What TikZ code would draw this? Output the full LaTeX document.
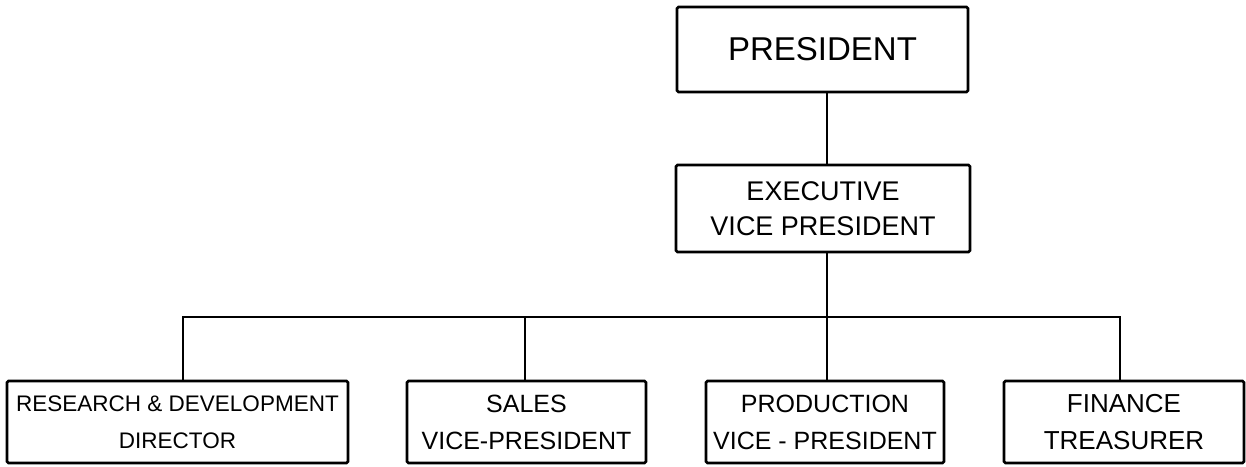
\documentclass[tikz,border=0pt]{standalone}
\usepackage{fontspec}
\setmainfont{Liberation Sans}
\begin{document}
\begin{tikzpicture}[x=1pt,y=-1pt,
  box/.style={draw=black, line width=2.6pt, rounded corners=1.5pt, inner sep=0pt, align=center},
  conn/.style={draw=black, line width=2.6pt}]
\useasboundingbox (0,0) rectangle (1246,466);
\node[box, minimum width=291pt, minimum height=85pt, font=\fontsize{33}{38}\selectfont] (pres) at (822.5,49.5) {PRESIDENT};
\node[box, minimum width=294pt, minimum height=87pt, font=\fontsize{27}{35}\selectfont] (exec) at (823,208.5) {EXECUTIVE\\VICE PRESIDENT};
\node[box, minimum width=341pt, minimum height=82pt, font=\fontsize{22.5}{37}\selectfont] (b1) at (177.5,422) {RESEARCH \& DEVELOPMENT\\DIRECTOR};
\node[box, minimum width=239pt, minimum height=82pt, font=\fontsize{25}{37}\selectfont] (b2) at (526.5,422) {SALES\\VICE-PRESIDENT};
\node[box, minimum width=238pt, minimum height=82pt, font=\fontsize{25}{37}\selectfont] (b3) at (825,422) {PRODUCTION\\VICE - PRESIDENT};
\node[box, minimum width=240pt, minimum height=82pt, font=\fontsize{26}{37}\selectfont] (b4) at (1124,422) {FINANCE\\TREASURER};
\coordinate (j1) at (183,317);
\coordinate (j2) at (525,317);
\coordinate (j3) at (827,317);
\coordinate (j4) at (1120,317);
\draw[conn] (pres.south -| j3) -- (exec.north -| j3);
\draw[conn] (exec.south -| j3) -- (j3);
\draw[conn] (b1.north -| j1) -- (j1) -- (j4) -- (b4.north -| j4);
\draw[conn] (j2) -- (b2.north -| j2);
\draw[conn] (j3) -- (b3.north -| j3);
\end{tikzpicture}
\end{document}
